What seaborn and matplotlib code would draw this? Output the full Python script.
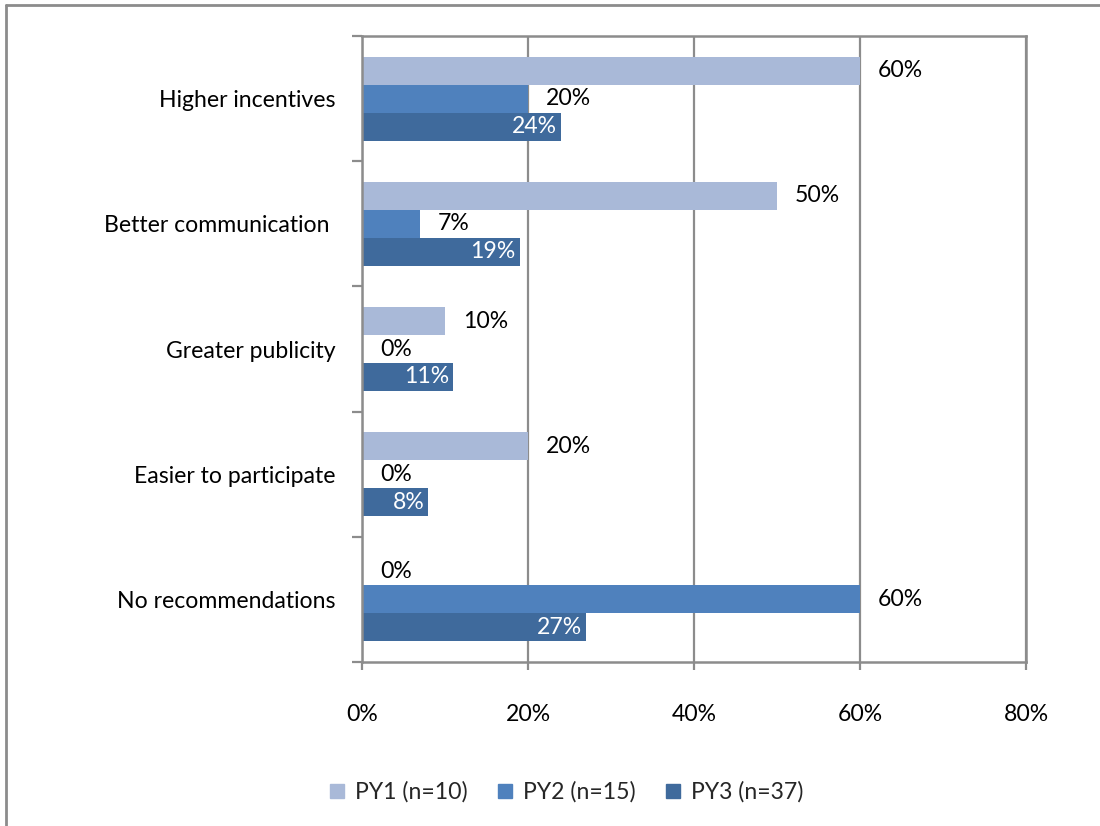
import matplotlib
matplotlib.use("Agg")
import matplotlib.pyplot as plt
from matplotlib.lines import Line2D
import seaborn as sns
import pandas as pd

categories = ["Higher incentives", "Better communication ", "Greater publicity",
              "Easier to participate", "No recommendations"]
series = ["PY1 (n=10)", "PY2 (n=15)", "PY3 (n=37)"]
py1 = [60, 50, 10, 20, 0]
py2 = [20, 7, 0, 0, 60]
py3 = [24, 19, 11, 8, 27]
x_ticks = [0, 20, 40, 60, 80]
x_tick_labels = ["0%", "20%", "40%", "60%", "80%"]
colors = ["#A9B9D8", "#4F81BD", "#3F6A9C"]

rows = []
for s, vals in zip(series, [py1, py2, py3]):
    for c, v in zip(categories, vals):
        rows.append({"category": c, "series": s, "value": v})
df = pd.DataFrame(rows)

sns.set_theme(style="white")
FS = 16.6
plt.rcParams["font.family"] = ["Lato", "DejaVu Sans"]
plt.rcParams["font.size"] = FS

fig = plt.figure(figsize=(11, 8.26), dpi=100)
ax = fig.add_axes([362 / 1100, 1 - 662 / 826, (1026 - 362) / 1100, (662 - 36) / 826])

sns.barplot(data=df, y="category", x="value", hue="series", orient="h",
            order=categories, hue_order=series, palette=colors,
            width=0.67, saturation=1, ax=ax, legend=False, errorbar=None,
            linewidth=0)

grid_c = "#8C8C8C"
ax.set_xlim(0, 80)
ax.set_ylim(len(categories) - 0.5, -0.5)
ax.set_xticks(x_ticks)
ax.set_xticklabels(x_tick_labels, fontsize=FS, color="black")
ax.xaxis.grid(True, color=grid_c, linewidth=1.6)
ax.set_axisbelow(True)
for sp in ax.spines.values():
    sp.set_visible(True)
    sp.set_color(grid_c)
    sp.set_linewidth(1.8)

ax.tick_params(axis="x", which="major", direction="out", length=6, width=1.6,
               color=grid_c, pad=24, bottom=True)
ax.tick_params(axis="y", which="major", length=0, pad=19, labelsize=FS,
               labelcolor="black")
ax.set_yticks([i - 0.5 for i in range(len(categories) + 1)], minor=True)
ax.tick_params(axis="y", which="minor", direction="out", length=7, width=1.6,
               color=grid_c, left=True)
ax.set_xlabel("")
ax.set_ylabel("")

# value labels: PY1/PY2 outside the bar end, PY3 inside in white
for si, container in enumerate(ax.containers):
    vals = [py1, py2, py3][si]
    for patch, v in zip(container.patches, vals):
        yc = patch.get_y() + patch.get_height() / 2
        if si < 2:
            ax.annotate(f"{v}%", (v, yc), xytext=(13, 0), textcoords="offset points",
                        ha="left", va="center", fontsize=FS, color="black")
        else:
            ax.annotate(f"{v}%", (v, yc), xytext=(-3, 0), textcoords="offset points",
                        ha="right", va="center", fontsize=FS, color="white")

handles = [Line2D([], [], marker="s", linestyle="none", markersize=10,
                  markerfacecolor=c, markeredgecolor=c) for c in colors]
fig.legend(handles, series, loc="center", bbox_to_anchor=(0.513, 0.041), ncol=3,
           frameon=False, fontsize=FS, handletextpad=0.3, columnspacing=1.1,
           handlelength=1.0)

# outer chart frame (left and top edges)
fig.add_artist(Line2D([6 / 1100, 6 / 1100], [0, 1 - 5 / 826], transform=fig.transFigure,
                      color=grid_c, linewidth=2))
fig.add_artist(Line2D([6 / 1100, 1], [1 - 5 / 826, 1 - 5 / 826], transform=fig.transFigure,
                      color=grid_c, linewidth=2))

fig.savefig("out.png", dpi=100)
